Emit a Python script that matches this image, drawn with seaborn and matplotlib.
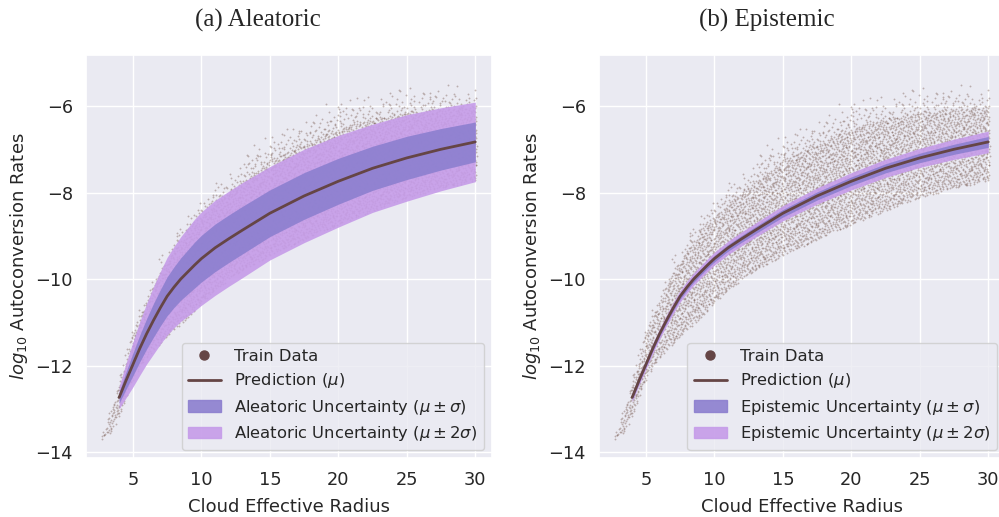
import numpy as np
import pandas as pd
import matplotlib
matplotlib.use("Agg")
import matplotlib.pyplot as plt
import seaborn as sns
from matplotlib.lines import Line2D
from matplotlib.patches import Patch

# ---------------- data ----------------
pred_x = [4, 4.5, 5, 5.5, 6, 6.5, 7, 7.5, 8, 8.5, 9, 9.5, 10, 11, 12, 13, 15,
          17.5, 20, 22.5, 25, 27.5, 30]
pred_mu = [-12.73, -12.34, -11.97, -11.6, -11.26, -10.95, -10.66, -10.39,
           -10.18, -9.99, -9.83, -9.67, -9.52, -9.27, -9.06, -8.86, -8.47,
           -8.07, -7.73, -7.43, -7.19, -6.99, -6.82]
alea_sigma = [0.13, 0.2, 0.26, 0.31, 0.35, 0.39, 0.42, 0.45, 0.47, 0.49, 0.51,
              0.53, 0.54, 0.55, 0.55, 0.55, 0.54, 0.54, 0.53, 0.51, 0.50, 0.48,
              0.46]
epi_sigma = [0.05, 0.052, 0.055, 0.058, 0.06, 0.062, 0.065, 0.067, 0.07, 0.071,
             0.072, 0.074, 0.075, 0.078, 0.08, 0.082, 0.088, 0.094, 0.10, 0.105,
             0.11, 0.117, 0.125]

# envelope of the training-data cloud (dense band + sparse upper fringe)
cloud_x = [2.7, 3.5, 4.0, 5.0, 6.0, 7.0, 8.0, 9.0, 10.0, 12.0, 15.0, 17.5, 20.0,
           22.5, 25.0, 27.5, 30.1]
cloud_lo = [-13.8, -13.5, -13.2, -12.3, -11.8, -11.5, -11.2, -10.88, -10.55,
            -10.0, -9.45, -9.08, -8.73, -8.42, -8.12, -7.9, -7.7]
cloud_hi = [-13.6, -13.0, -12.4, -11.25, -10.5, -9.85, -9.3, -8.85, -8.5, -7.95,
            -7.25, -6.85, -6.5, -6.3, -6.15, -6.05, -6.0]
cloud_top = [-13.5, -12.8, -12.2, -11.0, -10.2, -9.4, -8.8, -8.5, -8.0, -7.4,
             -6.5, -6.2, -5.7, -5.6, -5.45, -5.45, -5.5]

x_ticks = [5, 10, 15, 20, 25, 30]
y_ticks = [-14, -12, -10, -8, -6]
titles = ["(a) Aleatoric", "(b) Epistemic"]
kinds = ["Aleatoric", "Epistemic"]

# ---------------- style ----------------
sns.set_theme(style="darkgrid")
plt.rcParams["font.family"] = ["DejaVu Sans"]

line_c = "#654545"
dot_c = "#6d4c41"
c1 = "#8c7fcf"
c2 = "#c69ce9"


def halton(n, base, leap=409):
    out = np.zeros(n)
    for i in range(n):
        f, r, k = 1.0, 0.0, (i + 1) * leap
        while k > 0:
            f /= base
            r += f * (k % base)
            k //= base
        out[i] = r
    return out


# deterministic low-discrepancy fill of the read cloud envelope
n_cand = 24000
hx = halton(n_cand, 2)
hy = halton(n_cand, 3)
hz = halton(n_cand, 5)
cx = 2.7 + hx * (30.1 - 2.7)
cy = -13.9 + hy * (-5.2 + 13.9)
lo = np.interp(cx, cloud_x, cloud_lo)
hi = np.interp(cx, cloud_x, cloud_hi)
top = np.interp(cx, cloud_x, cloud_top)
dense = (cy >= lo) & (cy <= hi)
w = (cy - hi) / np.maximum(top - hi, 1e-6)
sparse = (w > 0) & (w <= 1) & (hz < 0.5 * (1 - w) ** 1.3)
keep = dense | sparse
train = pd.DataFrame({"r": cx[keep], "rate": cy[keep]})

pred = pd.DataFrame({"r": pred_x, "mu": pred_mu})
mu = np.array(pred_mu)

fig = plt.figure(figsize=(9.99, 5.17), dpi=100)
ax_w, ax_h = 406 / 999, 403 / 517
ax_b = 59 / 517
axes = [fig.add_axes([86 / 999, ax_b, ax_w, ax_h]),
        fig.add_axes([599 / 999, ax_b, ax_w, ax_h])]

for ax, sig, kind, title, xc in zip(axes, [alea_sigma, epi_sigma], kinds, titles,
                                     [258 / 999, 767 / 999]):
    s = np.array(sig)
    sns.scatterplot(data=train, x="r", y="rate", ax=ax, s=1.8, color=dot_c,
                    alpha=0.38, linewidth=0, legend=False, zorder=2)
    ax.fill_between(pred_x, mu - 2 * s, mu + 2 * s, color=c2, alpha=0.9,
                    linewidth=0, zorder=3)
    ax.fill_between(pred_x, mu - s, mu + s, color=c1, alpha=0.9, linewidth=0,
                    zorder=4)
    sns.lineplot(data=pred, x="r", y="mu", ax=ax, color=line_c, lw=2, zorder=5)

    ax.set_xlim(1.58, 31.22)
    ax.set_ylim(-14.13, -4.81)
    ax.set_xticks(x_ticks)
    ax.set_yticks(y_ticks)
    ax.tick_params(labelsize=12.8)
    ax.set_xlabel("Cloud Effective Radius", fontsize=13, labelpad=6)
    ax.set_ylabel(r"$log_{10}$ Autoconversion Rates", fontsize=13)

    handles = [
        Line2D([], [], marker="o", ls="", color=line_c, markersize=6.5),
        Line2D([], [], color=line_c, lw=2),
        Patch(facecolor=c1, edgecolor=c1, alpha=0.9),
        Patch(facecolor=c2, edgecolor=c2, alpha=0.9),
    ]
    labels = ["Train Data", r"Prediction ($\mu$)",
              f"{kind} Uncertainty ($\\mu \\pm \\sigma$)",
              f"{kind} Uncertainty ($\\mu \\pm 2\\sigma$)"]
    leg = ax.legend(handles, labels, loc="lower right", fontsize=11.8,
                    labelspacing=0.45)
    leg.set_zorder(10)

    fig.text(xc, 0.96, title, ha="center", va="center",
             family=["Liberation Serif", "DejaVu Serif"], fontsize=18)

fig.savefig("out.png", dpi=100)
